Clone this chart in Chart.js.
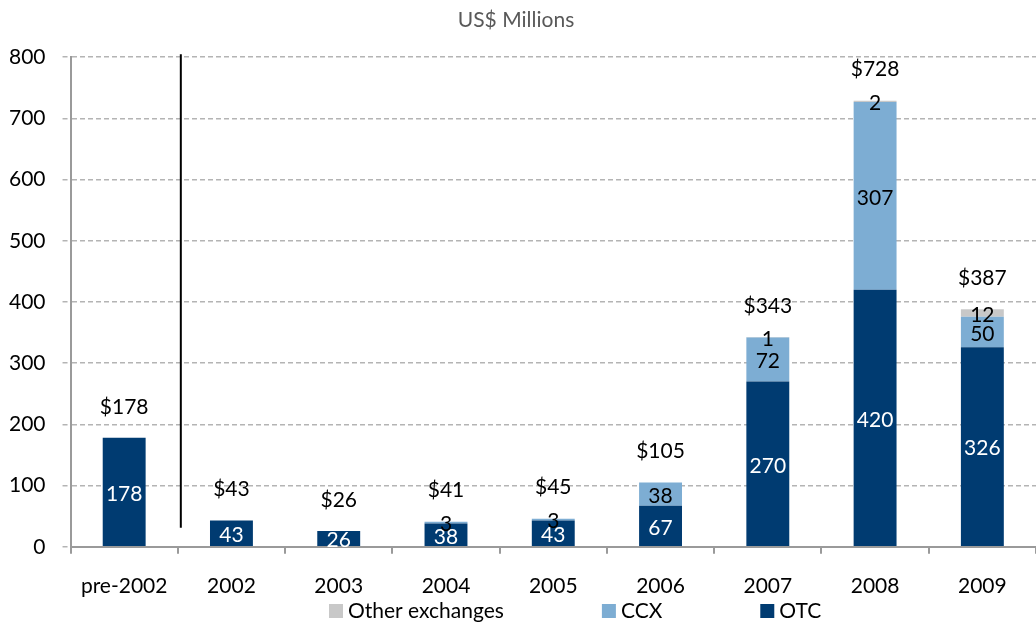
<!DOCTYPE html>
<html>
<head>
<meta charset="utf-8">
<title>US$ Millions</title>
<script src="https://cdn.jsdelivr.net/npm/chart.js"></script>
<style>
    html, body { margin: 0; padding: 0; background: #ffffff; }
    #wrap { width: 1036px; height: 622px; }
</style>
</head>
<body>
<div id="wrap">
    <canvas id="myChart"></canvas>
</div>

<script>
    const years = ['pre-2002', '2002', '2003', '2004', '2005', '2006', '2007', '2008', '2009'];
    const otc = [178, 43, 26, 38, 43, 67, 270, 420, 326];
    const ccx = [null, null, null, 3, 3, 38, 72, 307, 50];
    const otherExchanges = [null, null, null, null, null, null, 1, 2, 12];
    const totals = ['$178', '$43', '$26', '$41', '$45', '$105', '$343', '$728', '$387'];
    const yMin = 0, yMax = 800, yStep = 100;

    const FONT = 'Lato, "Open Sans", sans-serif';

    // value labels inside each segment + total above each stack + the pre-2002 divider
    const barLabels = {
        id: 'barLabels',
        afterDatasetsDraw(chart) {
            const ctx = chart.ctx;
            const xs = chart.scales.x, ys = chart.scales.y;
            ctx.save();
            ctx.font = '21px ' + FONT;
            ctx.textAlign = 'center';
            ctx.textBaseline = 'middle';
            chart.data.datasets.forEach((ds, i) => {
                const meta = chart.getDatasetMeta(i);
                meta.data.forEach((bar, j) => {
                    const v = ds.data[j];
                    if (v == null) return;
                    const p = bar.getProps(['x', 'y', 'base'], true);
                    ctx.fillStyle = ds.labelColor;
                    ctx.fillText(String(v), p.x, (p.y + p.base) / 2 + 2);
                });
            });

            ctx.fillStyle = '#000000';
            years.forEach((yr, j) => {
                const sum = (otc[j] || 0) + (ccx[j] || 0) + (otherExchanges[j] || 0);
                ctx.fillText(totals[j], xs.getPixelForValue(j), ys.getPixelForValue(sum) - 31);
            });

            // divider between pre-2002 and the yearly bars
            const dx = (xs.getPixelForValue(0) + xs.getPixelForValue(1)) / 2 + 3;
            ctx.strokeStyle = '#000000';
            ctx.lineWidth = 2;
            ctx.beginPath();
            ctx.moveTo(dx, chart.chartArea.top - 3);
            ctx.lineTo(dx, ys.getPixelForValue(31));
            ctx.stroke();
            ctx.restore();
        }
    };

    // legend drawn by hand so it sits where the original has it
    const bottomLegend = {
        id: 'bottomLegend',
        afterDraw(chart) {
            const ctx = chart.ctx;
            const items = chart.data.datasets.slice().reverse();
            let x = 329;
            const y = 611;
            ctx.save();
            ctx.font = '21px ' + FONT;
            ctx.textBaseline = 'middle';
            ctx.textAlign = 'left';
            items.forEach(ds => {
                ctx.fillStyle = ds.backgroundColor;
                ctx.fillRect(x, y - 7, 14, 14);
                ctx.fillStyle = '#000000';
                ctx.fillText(ds.label, x + 19, y);
                x += 19 + ctx.measureText(ds.label).width + 98;
            });
            ctx.restore();
        }
    };

    const ctx = document.getElementById('myChart');

    new Chart(ctx, {
        type: 'bar',
        data: {
            labels: years,
            datasets: [{
                label: 'OTC',
                data: otc,
                backgroundColor: '#003b71',
                labelColor: '#ffffff'
            }, {
                label: 'CCX',
                data: ccx,
                backgroundColor: '#7dadd3',
                labelColor: '#000000'
            }, {
                label: 'Other exchanges',
                data: otherExchanges,
                backgroundColor: '#c8c8c8',
                labelColor: '#000000'
            }]
        },
        options: {
            responsive: true,
            maintainAspectRatio: false,
            animation: false,
            categoryPercentage: 1,
            barPercentage: 0.4,
            layout: { padding: { top: 2, left: -8, right: -4, bottom: 3 } },
            plugins: {
                legend: { display: false },
                tooltip: { enabled: false },
                title: {
                    display: true,
                    text: 'US$ Millions',
                    color: '#595959',
                    font: { family: FONT, size: 21, weight: 'normal' },
                    padding: { top: 6, bottom: 24 }
                }
            },
            scales: {
                x: {
                    stacked: true,
                    ticks: { color: '#000000', padding: 20, font: { family: FONT, size: 21 } },
                    grid: { drawOnChartArea: false, drawTicks: true, tickLength: 7, color: '#9a9a9a', lineWidth: 2 },
                    border: { color: '#9a9a9a', width: 2 }
                },
                y: {
                    stacked: true,
                    min: yMin,
                    max: yMax,
                    ticks: { stepSize: yStep, color: '#000000', padding: 17, font: { family: FONT, size: 21 } },
                    grid: { color: '#b4b4b4', lineWidth: 1.5, tickLength: 8, tickBorderDash: [5, 3] },
                    border: { color: '#9a9a9a', width: 2, dash: [5, 3] }
                }
            }
        },
        plugins: [barLabels, bottomLegend]
    });
</script>
</body>
</html>
